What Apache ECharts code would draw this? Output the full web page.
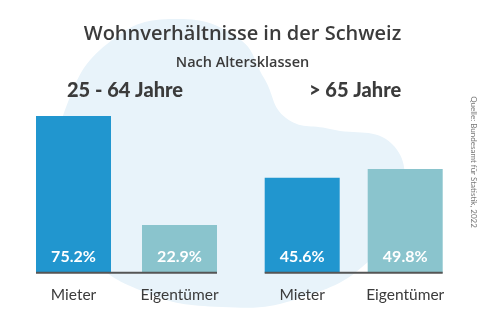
<!DOCTYPE html>
<html>
<head>
<meta charset="utf-8">
<script src="https://cdn.jsdelivr.net/npm/echarts@6/dist/echarts.min.js"></script>
<style>
  html, body { margin: 0; padding: 0; background: #ffffff; }
  #chart { width: 485px; height: 324px; }
</style>
</head>
<body>
<div id="chart"></div>
<script>
// Wohnverhältnisse nach Altersklassen (Anteile in %)
const categories = ['Mieter', 'Eigentümer'];
const groupTitles = ['25 - 64 Jahre', '> 65 Jahre'];
const valuesAge25to64 = [75.2, 22.9];
const valuesAge65plus = [45.6, 49.8];
const barColors = ['#2196CF', '#8AC4CD'];
const sourceNote = 'Quelle: Bundesamt für Statistik, 2022';

const FONT = 'Lato';
const HEAD_FONT = 'Open Sans';
const TEXT = '#3b3b3b';
const BAR_W = 75;

const chart = echarts.init(document.getElementById('chart'), null, { renderer: 'canvas' });

const grids = [
  { left: 20.5, width: 212, top: 64.3, height: 208.4 },
  { left: 250.7, width: 206, top: 64.3, height: 208.4 }
];

function makeSeries(idx, values) {
  return {
    type: 'bar',
    xAxisIndex: idx,
    yAxisIndex: idx,
    barWidth: BAR_W,
    data: values.map((v, i) => ({ value: v, itemStyle: { color: barColors[i] } })),
    label: {
      show: true,
      position: 'insideBottom',
      distance: 8,
      formatter: p => p.value.toFixed(1) + '%',
      color: '#ffffff',
      fontFamily: FONT,
      fontWeight: 'bold',
      fontSize: 16
    },
    silent: true
  };
}

function makeXAxis(idx) {
  return {
    type: 'category',
    gridIndex: idx,
    data: categories,
    axisLine: { show: false },
    axisTick: { show: false },
    axisLabel: { color: TEXT, fontFamily: FONT, fontSize: 15.5, margin: 14 }
  };
}

function makeYAxis(idx) {
  return {
    type: 'value',
    gridIndex: idx,
    min: 0,
    max: 100,
    show: false,
    splitLine: { show: false }
  };
}

// light backdrop shape behind the bars
const backdrop = {
  type: 'polygon',
  z: -10,
  silent: true,
  shape: {
    smooth: 0.45,
    points: [
      [175, 19], [238, 38], [264, 78], [286, 118], [330, 129], [392, 144],
      [402, 200], [372, 258], [300, 298], [222, 307], [142, 291], [88, 252],
      [58, 180], [68, 102], [112, 40]
    ]
  },
  style: { fill: '#E8F3FA' }
};

const sourceText = {
  type: 'text',
  x: 474,
  y: 162,
  rotation: -Math.PI / 2,
  silent: true,
  style: {
    text: sourceNote,
    fill: '#777777',
    font: '8px ' + FONT,
    align: 'center',
    verticalAlign: 'middle'
  }
};

chart.setOption({
  animation: false,
  title: [
    { text: 'Wohnverhältnisse in der Schweiz', left: 'center', top: 19,
      textStyle: { color: TEXT, fontFamily: HEAD_FONT, fontSize: 20, fontWeight: 600 } },
    { text: 'Nach Altersklassen', left: 'center', top: 50,
      textStyle: { color: TEXT, fontFamily: HEAD_FONT, fontSize: 14.5, fontWeight: 600 } },
    { text: groupTitles[0], left: 67, top: 81, padding: 0,
      textStyle: { color: TEXT, fontFamily: FONT, fontSize: 20, fontWeight: 900 } },
    { text: groupTitles[1], left: 309, top: 81, padding: 0,
      textStyle: { color: TEXT, fontFamily: FONT, fontSize: 20, fontWeight: 900 } }
  ],
  grid: grids,
  xAxis: [makeXAxis(0), makeXAxis(1)],
  yAxis: [makeYAxis(0), makeYAxis(1)],
  series: [makeSeries(0, valuesAge25to64), makeSeries(1, valuesAge65plus)],
  graphic: [backdrop, sourceText]
});

// baseline under each bar pair, from the outer edge of the first bar to the outer edge of the last
const baselines = [0, 1].map(idx => {
  const p0 = chart.convertToPixel({ gridIndex: idx }, [categories[0], 0]);
  const p1 = chart.convertToPixel({ gridIndex: idx }, [categories[categories.length - 1], 0]);
  return {
    type: 'line',
    z: 10,
    silent: true,
    shape: { x1: p0[0] - BAR_W / 2, y1: p0[1], x2: p1[0] + BAR_W / 2, y2: p1[1] },
    style: { stroke: '#555555', lineWidth: 2 }
  };
});

chart.setOption({ graphic: [backdrop, sourceText].concat(baselines) }, { replaceMerge: ['graphic'] });
</script>
</body>
</html>
